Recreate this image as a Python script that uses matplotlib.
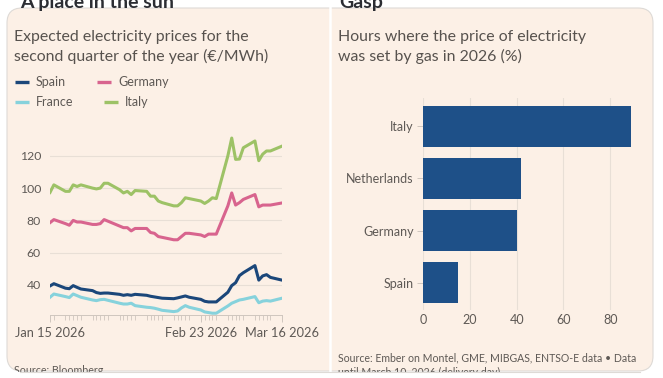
import matplotlib
matplotlib.use("Agg")
import matplotlib.pyplot as plt
from matplotlib.patches import FancyBboxPatch, Rectangle
from matplotlib.lines import Line2D
from matplotlib.transforms import IdentityTransform
import pandas as pd

# ---------------- data ----------------
dates = pd.bdate_range("2026-01-15", "2026-03-16")  # trading days
spain = [39.4, 40.8, 38, 37.7, 39.6, 38.5, 37.5, 36.5, 35.3, 34.8, 35, 35, 34.2, 33.6, 34,
         33.6, 34.2, 33.6, 33, 32.6, 32.2, 31.8, 31.5, 32, 32.6, 33.2, 32.4, 31.1, 29.9, 29.5,
         29.5, 29.5, 35.5, 39.6, 41.4, 45.8, 47.6, 52, 43, 45.6, 46.4, 44.7, 43]
france = [32.4, 34.4, 32.8, 32.2, 34.4, 33.4, 32.4, 30.7, 30.3, 30.9, 31.1, 30.5, 28.7, 28.2,
          28.2, 28.7, 27.2, 26.2, 26, 25.6, 25, 24.3, 23.5, 23.9, 25.8, 27.2, 26.2, 24.5, 23.3,
          22.9, 22.5, 22.5, 27, 28.7, 29.7, 30.7, 31.1, 32.8, 29, 30, 30.3, 30, 31.8]
germany = [78.6, 80.5, 78, 77, 80, 79, 79, 77.5, 77.5, 78, 80.5, 79.5, 76.5, 75.5, 75.5, 73.5,
           75, 75, 72.5, 72, 70, 69.5, 68, 68, 70, 72, 72, 71, 70, 71.5, 71.5, 71.5, 89, 97,
           89.5, 91, 93, 96, 88.4, 89.5, 89.5, 89.5, 90.8]
italy = [97.3, 102, 98, 98, 102, 101, 102, 100, 99.5, 100, 103, 103, 99, 97, 98, 96, 98.5, 98,
         95, 95, 92, 91, 89, 89, 91, 94, 93.5, 92, 90.5, 92, 94, 93.5, 120, 131, 117.8, 118,
         125, 129.2, 117, 121, 123, 123, 126]
y_ticks = [40, 60, 80, 100, 120]
x_tick_dates = ["2026-01-15", "2026-02-23", "2026-03-16"]
x_tick_labels = ["Jan 15 2026", "Feb 23 2026", "Mar 16 2026"]

bar_countries = ["Spain", "Germany", "Netherlands", "Italy"]   # bottom -> top
bar_values = [15, 40, 42, 89]
bar_ticks = [0, 20, 40, 60, 80]

# ---------------- style ----------------
plt.rcParams['font.family'] = ['Lato', 'DejaVu Sans']
CREAM = '#fcf0e6'
TXT = '#5e5955'
TITLE = '#57524e'
GRID = '#e8dfd6'
AX = '#cfc6be'
C_SPAIN = '#1b477a'
C_FRANCE = '#86d2dc'
C_GERMANY = '#d8648e'
C_ITALY = '#9dc266'
C_BAR = '#1e5088'

W, H = 663, 378
fig = plt.figure(figsize=(W / 100, H / 100), dpi=100)
fig.patch.set_facecolor('white')


def fx(px):
    return px / W


def fy(py):
    return 1 - py / H


def axes_px(left, top, right, bottom):
    return fig.add_axes([fx(left), fy(bottom), fx(right) - fx(left), fy(top) - fy(bottom)])


# background card
card = FancyBboxPatch((7, H - 371), 646, 363,
                      boxstyle="round,pad=0,rounding_size=15",
                      transform=IdentityTransform(), facecolor=CREAM,
                      edgecolor='#dedad6', linewidth=0.8, zorder=0)
fig.add_artist(card)
fig.add_artist(Line2D([329.5, 329.5], [0, H - 6], transform=IdentityTransform(),
                      color='white', linewidth=1.8, zorder=1))

# cut-off headlines at the very top (only their lower part is in the screenshot)
fig.text(fx(20), fy(8), "A place in the sun", fontsize=14, fontweight='bold',
         color='#2b2d33', va='baseline', ha='left')
fig.text(fx(339), fy(8), "Gasp", fontsize=14, fontweight='bold',
         color='#2b2d33', va='baseline', ha='left')

# ---------------- left chart ----------------
fig.text(fx(14), fy(40.5), "Expected electricity prices for the", fontsize=11.4,
         color=TITLE, va='baseline')
fig.text(fx(14), fy(61.5), "second quarter of the year (€/MWh)", fontsize=11.4,
         color=TITLE, va='baseline')

legend_items = [("Spain", C_SPAIN, 15, 36, 82), ("Germany", C_GERMANY, 97, 118, 82),
                ("France", C_FRANCE, 15, 36, 101.5), ("Italy", C_ITALY, 104, 125, 101.5)]
for name, col, x0, xt, yy in legend_items:
    fig.add_artist(Line2D([x0, x0 + 14], [H - yy, H - yy], transform=IdentityTransform(),
                          color=col, linewidth=2.4, solid_capstyle='butt'))
    fig.text(fx(xt), fy(yy), name, fontsize=9, color=TXT, va='center', ha='left')

ax1 = axes_px(50, 131.6, 282, 315)
ax1.set_facecolor('none')
for series, col in [(italy, C_ITALY), (germany, C_GERMANY), (france, C_FRANCE), (spain, C_SPAIN)]:
    ax1.plot(dates, series, color=col, linewidth=2.2, solid_joinstyle='round', zorder=3)
ax1.set_xlim(dates[0], dates[-1])
ax1.set_ylim(21.4, 135)
ax1.set_yticks(y_ticks)
ax1.tick_params(axis='y', length=0, pad=6.5, labelsize=8.8, labelcolor=TXT)
ax1.grid(axis='y', color=GRID, linewidth=0.8)
ax1.set_xticks(pd.to_datetime(x_tick_dates))
ax1.set_xticklabels(x_tick_labels)
ax1.set_xticks(dates, minor=True)
ax1.tick_params(axis='x', which='major', length=5, width=0.7, color=AX, pad=3.5,
                labelsize=9.2, labelcolor=TXT)
ax1.tick_params(axis='x', which='minor', length=3.5, width=0.6, color=AX)
for s in ['top', 'right', 'left']:
    ax1.spines[s].set_visible(False)
ax1.spines['bottom'].set_color(AX)
ax1.spines['bottom'].set_linewidth(0.7)

fig.text(fx(14), fy(374.5), "Source: Bloomberg", fontsize=7.7, color=TXT,
         va='baseline')

# ---------------- right chart ----------------
fig.text(fx(338), fy(41), "Hours where the price of electricity", fontsize=11.4,
         color=TITLE, va='baseline')
fig.text(fx(338), fy(61), "was set by gas in 2026 (%)", fontsize=11.4,
         color=TITLE, va='baseline')

ax2 = axes_px(423.3, 98, 633.5, 310)
ax2.set_facecolor('none')
ypos = list(range(len(bar_countries)))
ax2.barh(ypos, bar_values, height=0.79, color=C_BAR, zorder=3)
ax2.set_xlim(0, 90)
ax2.set_ylim(-0.52, 3.54)
ax2.set_yticks(ypos)
ax2.set_yticklabels(bar_countries)
ax2.set_xticks(bar_ticks)
ax2.tick_params(axis='y', length=4, width=0.7, color=AX, pad=3, labelsize=9,
                labelcolor=TXT)
ax2.tick_params(axis='x', length=0, pad=3, labelsize=9, labelcolor=TXT)
ax2.grid(axis='x', color=GRID, linewidth=0.8)
for s in ax2.spines.values():
    s.set_visible(False)

fig.text(fx(338), fy(361.5), "Source: Ember on Montel, GME, MIBGAS, ENTSO-E data \u2022 Data",
         fontsize=7.6, color=TXT, va='baseline')
fig.text(fx(338), fy(376), "until March 10, 2026 (delivery day)",
         fontsize=7.6, color=TXT, va='baseline')

# screenshot crop at the bottom: white strip below the card edge
fig.add_artist(Rectangle((0, 0), W, H - 371.5, transform=IdentityTransform(),
                         facecolor='white', edgecolor='none', zorder=20))
fig.add_artist(Line2D([20, 640], [H - 371.5, H - 371.5], transform=IdentityTransform(),
                      color='#dedad6', linewidth=0.8, zorder=21))

fig.savefig("out.png", dpi=100, facecolor='white')
